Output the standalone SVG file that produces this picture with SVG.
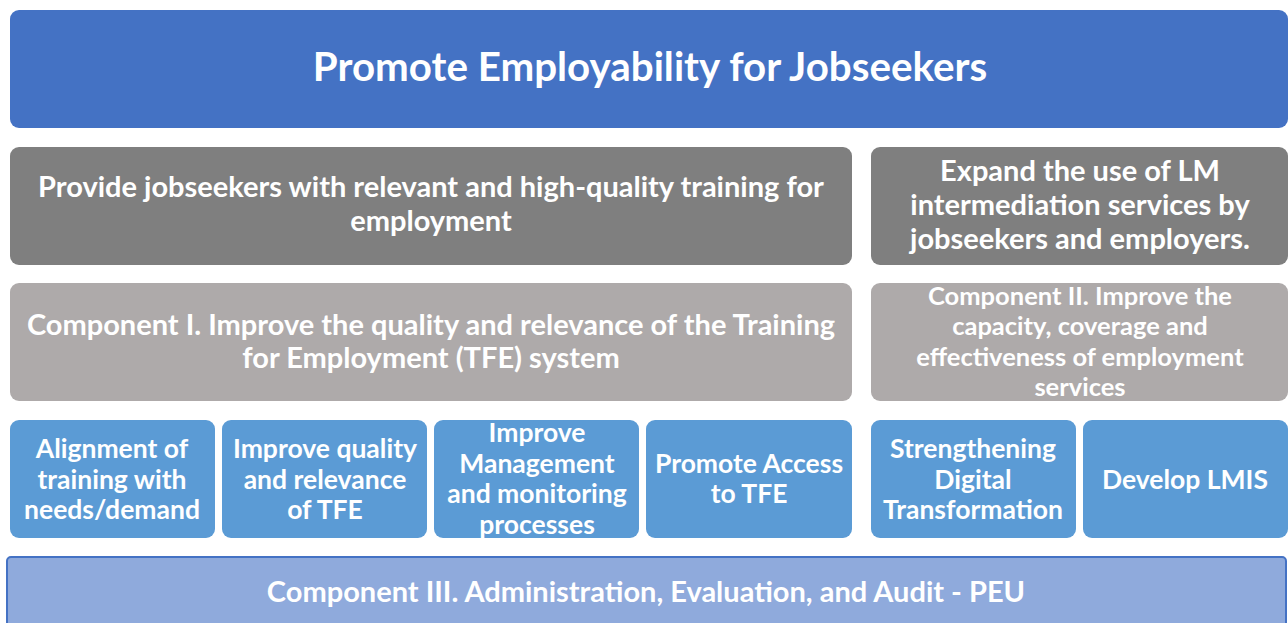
<svg xmlns="http://www.w3.org/2000/svg" width="1288" height="623" viewBox="0 0 1288 623">
<style>
.t{font-family:Lato,"Open Sans","Liberation Sans",sans-serif;font-weight:bold;fill:#fff;text-anchor:middle}
.blue{fill:#4472C4}
.dg{fill:#7F7F7F}
.lg{fill:#AEAAAA}
.sb{fill:#5B9BD5}
</style>
<rect width="1288" height="623" fill="#fff"/>
<g id="title">
<rect class="blue" x="10" y="10" width="1278" height="118" rx="9"/>
<text class="t" x="650" y="81" font-size="40.3">Promote Employability for Jobseekers</text>
</g>
<g id="obj1">
<rect class="dg" x="10" y="147" width="842" height="118" rx="9"/>
<text class="t" x="431" y="197" font-size="29">Provide jobseekers with relevant and high-quality training for</text>
<text class="t" x="431" y="231" font-size="29">employment</text>
</g>
<g id="obj2">
<rect class="dg" x="871" y="147" width="417" height="118" rx="9"/>
<text class="t" x="1080" y="181" font-size="29">Expand the use of LM</text>
<text class="t" x="1080" y="215" font-size="29">intermediation services by</text>
<text class="t" x="1080" y="249" font-size="29">jobseekers and employers.</text>
</g>
<g id="comp1">
<rect class="lg" x="10" y="283" width="842" height="118" rx="9"/>
<text class="t" x="431" y="335" font-size="29">Component I. Improve the quality and relevance of the Training</text>
<text class="t" x="431" y="368" font-size="29">for Employment (TFE) system</text>
</g>
<g id="comp2">
<rect class="lg" x="871" y="283" width="417" height="118" rx="9"/>
<text class="t" x="1080" y="305" font-size="25.5">Component II. Improve the</text>
<text class="t" x="1080" y="335" font-size="25.5">capacity, coverage and</text>
<text class="t" x="1080" y="366" font-size="25.5">effectiveness of employment</text>
<text class="t" x="1080" y="396" font-size="25.5">services</text>
</g>
<g id="a1">
<rect class="sb" x="10" y="420" width="205" height="118" rx="9"/>
<text class="t" x="112" y="458" font-size="26.5">Alignment of</text>
<text class="t" x="112" y="489" font-size="26.5">training with</text>
<text class="t" x="112" y="519" font-size="26.5">needs/demand</text>
</g>
<g id="a2">
<rect class="sb" x="222" y="420" width="205" height="118" rx="9"/>
<text class="t" x="325" y="458" font-size="26.5">Improve quality</text>
<text class="t" x="325" y="489" font-size="26.5">and relevance</text>
<text class="t" x="325" y="519" font-size="26.5">of TFE</text>
</g>
<g id="a3">
<rect class="sb" x="434" y="420" width="205" height="118" rx="9"/>
<text class="t" x="537" y="442" font-size="26.5">Improve</text>
<text class="t" x="537" y="473" font-size="26.5">Management</text>
<text class="t" x="537" y="503" font-size="26.5">and monitoring</text>
<text class="t" x="537" y="534" font-size="26.5">processes</text>
</g>
<g id="a4">
<rect class="sb" x="646" y="420" width="206" height="118" rx="9"/>
<text class="t" x="749" y="473" font-size="26.5">Promote Access</text>
<text class="t" x="749" y="503" font-size="26.5">to TFE</text>
</g>
<g id="a5">
<rect class="sb" x="871" y="420" width="205" height="118" rx="9"/>
<text class="t" x="973" y="458" font-size="26.5">Strengthening</text>
<text class="t" x="973" y="489" font-size="26.5">Digital</text>
<text class="t" x="973" y="519" font-size="26.5">Transformation</text>
</g>
<g id="a6">
<rect class="sb" x="1083" y="420" width="205" height="118" rx="9"/>
<text class="t" x="1185" y="489" font-size="26.5">Develop LMIS</text>
</g>
<g id="comp3">
<rect x="7" y="557" width="1279" height="70" rx="4" fill="#8FAADC" stroke="#4472C4" stroke-width="2"/>
<text class="t" x="646" y="602" font-size="29">Component III. Administration, Evaluation, and Audit - PEU</text>
</g>
<g id="connectors"/>
</svg>
